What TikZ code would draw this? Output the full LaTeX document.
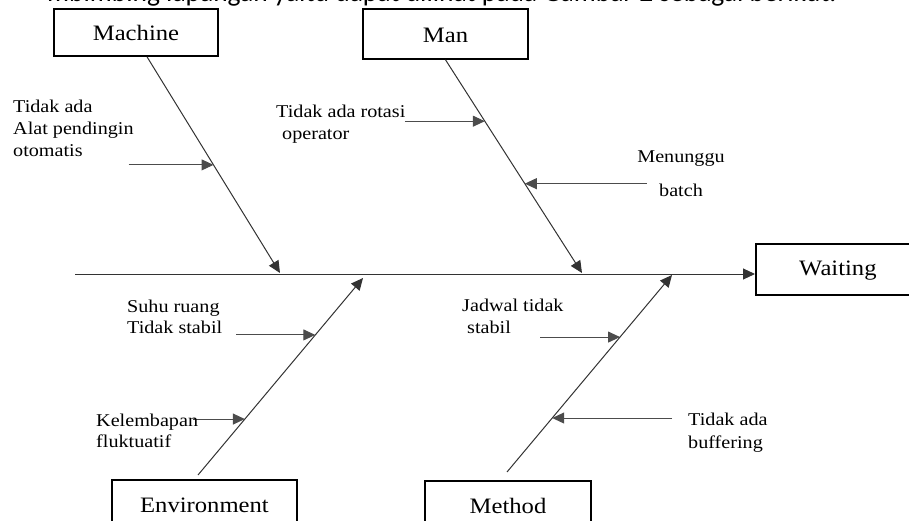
\documentclass[tikz,border=0pt]{standalone}
\usepackage{fontspec}
\setmainfont{Liberation Serif}[FakeStretch=1.12]
\newfontfamily\bodyfont{Carlito}
\usetikzlibrary{arrows.meta,calc}

\begin{document}
\begin{tikzpicture}[x=1pt,y=-1pt,
  >={Triangle[length=12pt,width=11pt]},
  category/.style={draw,line width=1.8pt,inner sep=0pt,minimum width=165pt,
    font=\fontsize{22}{26}\selectfont},
  cause/.style={anchor=base west,align=left,inner sep=0pt,
    font=\fontsize{18}{22}\selectfont},
  bone/.style={->,line width=1pt,black!80},
  twig/.style={->,line width=1pt,black!70}]
\useasboundingbox (0,0) rectangle (909,521);
\clip (0,0) rectangle (909,521);
% cut-off line of the text above the figure
\node[anchor=base west,inner sep=0pt,font=\bodyfont\fontsize{27.5}{32}\selectfont] (caption) at (47,2)
  {mbimbing lapangan yaitu dapat dilihat pada Gambar 2 sebagai berikut.};
% categories
\node[category,anchor=north,minimum width=164pt,text height=32pt,text depth=15pt] (machine) at (136,8) {Machine};
\node[category,anchor=north,text height=34pt,text depth=16pt] (man) at (445.5,8) {Man};
\node[category,anchor=north west,minimum width=164pt,text height=32pt,text depth=19pt] (waiting) at (755,243) {Waiting};
\node[category,anchor=north,minimum width=185pt,text height=33pt,text depth=20pt] (env) at (204.5,479) {Environment};
\node[category,anchor=north,minimum width=166pt,text height=33pt,text depth=20pt] (method) at (508,480) {Method};
% spine
\coordinate (tail) at (75,274);
\draw[bone] (tail) -- (tail -| waiting.west);
% bones
\coordinate (mtail) at ([xshift=11pt]machine.south);
\coordinate (mtip) at (280,273);
\coordinate (ntail) at (man.south);
\coordinate (ntip) at (582,273);
\coordinate (etail) at ([xshift=-6.5pt,yshift=4pt]env.north);
\coordinate (etip) at (363,278);
\coordinate (dtail) at ([xshift=-1pt,yshift=8pt]method.north);
\coordinate (dtip) at (672,275);
\draw[bone] (mtail) -- (mtip);
\draw[bone] (ntail) -- (ntip);
\draw[bone] (etail) -- (etip);
\draw[bone] (dtail) -- (dtip);
% causes
\coordinate (m1) at ($(mtail)!.5!(mtip)$);
\coordinate (n1) at ($(ntail)!.288!(ntip)$);
\coordinate (n2) at ($(ntail)!.581!(ntip)$);
\coordinate (e1) at ($(etail)!.711!(etip)$);
\coordinate (e2) at ($(etail)!.284!(etip)$);
\coordinate (d1) at ($(dtail)!.685!(dtip)$);
\coordinate (d2) at ($(dtail)!.274!(dtip)$);
\draw[twig] ([xshift=-85pt]m1) -- (m1);
\draw[twig] ([xshift=-80pt]n1) -- (n1);
\draw[twig] ([xshift=122pt]n2) -- (n2);
\draw[twig] ([xshift=-79pt]e1) -- (e1);
\draw[twig] ([xshift=-52pt]e2) -- (e2);
\draw[twig] ([xshift=-80pt]d1) -- (d1);
\draw[twig] ([xshift=120pt]d2) -- (d2);
% base anchor of a multi-line node sits on its last line
\node[cause] (cooler) at (13,157) {Tidak ada\\Alat pendingin\\otomatis};
\node[cause] (rotation) at (276,140) {Tidak ada rotasi\\\hspace{6pt}operator};
\node[cause,anchor=base,align=center] (batch) at (681,197) {Menunggu\\[12pt]batch};
\node[cause,font=\fontsize{18}{21}\selectfont] (temp) at (127,333) {Suhu ruang\\Tidak stabil};
\node[cause,font=\fontsize{18}{21}\selectfont] (humid) at (96,447) {Kelembapan\\fluktuatif};
\node[cause] (schedule) at (462,333) {Jadwal tidak\\\hspace{5pt}stabil};
\node[cause,font=\fontsize{18}{23}\selectfont] (buffer) at (688,448) {Tidak ada\\buffering};
\end{tikzpicture}
\end{document}
